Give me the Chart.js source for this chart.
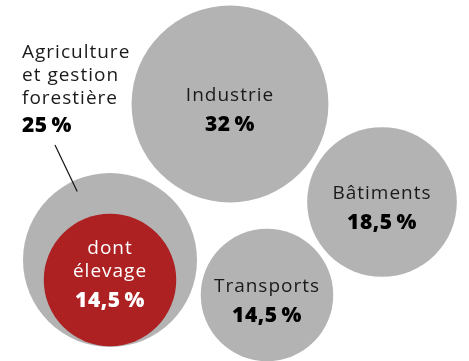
<!DOCTYPE html>
<html>
<head>
<meta charset="utf-8">
<script src="https://cdn.jsdelivr.net/npm/chart.js@4"></script>
<style>
  html, body { margin: 0; background: #fff; }
  #wrap { width: 469px; height: 361px; position: relative; }
</style>
</head>
<body>
<div id="wrap"><canvas id="chart"></canvas></div>
<script>
// Parts des émissions par secteur (%)
const categories = ['Industrie', 'Bâtiments', 'Transports', 'Agriculture et gestion forestière', 'dont élevage'];
const shares = [32, 18.5, 14.5, 25, 14.5];
// position of each bubble in the (hidden) axis units
const posX = [230, 382, 267, 110, 110];
const posY = [104, 202, 295, 260, 280];
// text shown for each bubble
const nameLines = [['Industrie'], ['Bâtiments'], ['Transports'], ['Agriculture', 'et gestion', 'forestière'], ['dont', 'élevage']];

const RADIUS_K = 17.4; // px per sqrt(%) -> bubble area proportional to the share
const GREY = '#b3b3b3';
const RED = '#ad2123';
const NAME_FONT = '400 19px "Open Sans", Lato, sans-serif';
const PCT_FONT = '800 21px "Open Sans", Lato, sans-serif';

const pctLabels = shares.map(v => v.toLocaleString('fr-FR') + '\u2009%');

const ctx = document.getElementById('chart').getContext('2d');

// writes names + percentage in (or next to) each bubble
const bubbleLabels = {
  id: 'bubbleLabels',
  afterDatasetsDraw(chart) {
    const c = chart.ctx;
    const meta = chart.getDatasetMeta(0);
    meta.data.forEach((el, i) => {
      const lines = nameLines[i];
      c.save();
      c.textBaseline = 'alphabetic';
      if (i === 3) {
        // label outside, top-left, with a leader line
        const x0 = 22;
        c.textAlign = 'left';
        c.fillStyle = '#1a1a1a';
        c.font = NAME_FONT;
        c.letterSpacing = '1px';
        lines.forEach((t, k) => c.fillText(t, x0, 58 + k * 23));
        c.fillStyle = '#000';
        c.font = PCT_FONT;
        c.letterSpacing = '0.5px';
        c.fillText(pctLabels[i], x0, 132);
        // leader line
        const sx = 55, sy = 145;
        const dx = sx - el.x, dy = sy - el.y;
        const d = Math.hypot(dx, dy);
        const reach = el.options.radius - 11;
        c.strokeStyle = '#111';
        c.lineWidth = 1.2;
        c.beginPath();
        c.moveTo(sx, sy);
        c.lineTo(el.x + dx / d * reach, el.y + dy / d * reach);
        c.stroke();
      } else {
        const onRed = i === 4;
        c.textAlign = 'center';
        c.fillStyle = onRed ? '#fff' : '#1a1a1a';
        c.font = NAME_FONT;
        c.letterSpacing = '1px';
        const last = el.y - 3;
        lines.forEach((t, k) => c.fillText(t, el.x, last - (lines.length - 1 - k) * 23));
        c.fillStyle = onRed ? '#fff' : '#000';
        c.font = PCT_FONT;
        c.letterSpacing = '0.5px';
        c.fillText(pctLabels[i], el.x, el.y + 27);
      }
      c.restore();
    });
  }
};

const chart = new Chart(ctx, {
  type: 'bubble',
  data: {
    labels: categories,
    datasets: [{
      label: 'Part des émissions',
      data: shares.map((v, i) => ({ x: posX[i], y: posY[i], r: RADIUS_K * Math.sqrt(v) })),
      backgroundColor: [GREY, GREY, GREY, GREY, RED],
      borderWidth: 0,
      hoverRadius: 0,
      hoverBorderWidth: 0,
      clip: false
    }]
  },
  options: {
    responsive: true,
    maintainAspectRatio: false,
    animation: false,
    events: [],
    layout: { padding: 0, autoPadding: false },
    plugins: {
      legend: { display: false },
      tooltip: { enabled: false }
    },
    scales: {
      x: { type: 'linear', min: 0, max: 469, display: false },
      y: { type: 'linear', min: 0, max: 361, reverse: true, display: false }
    }
  },
  plugins: [bubbleLabels]
});
</script>
</body>
</html>
